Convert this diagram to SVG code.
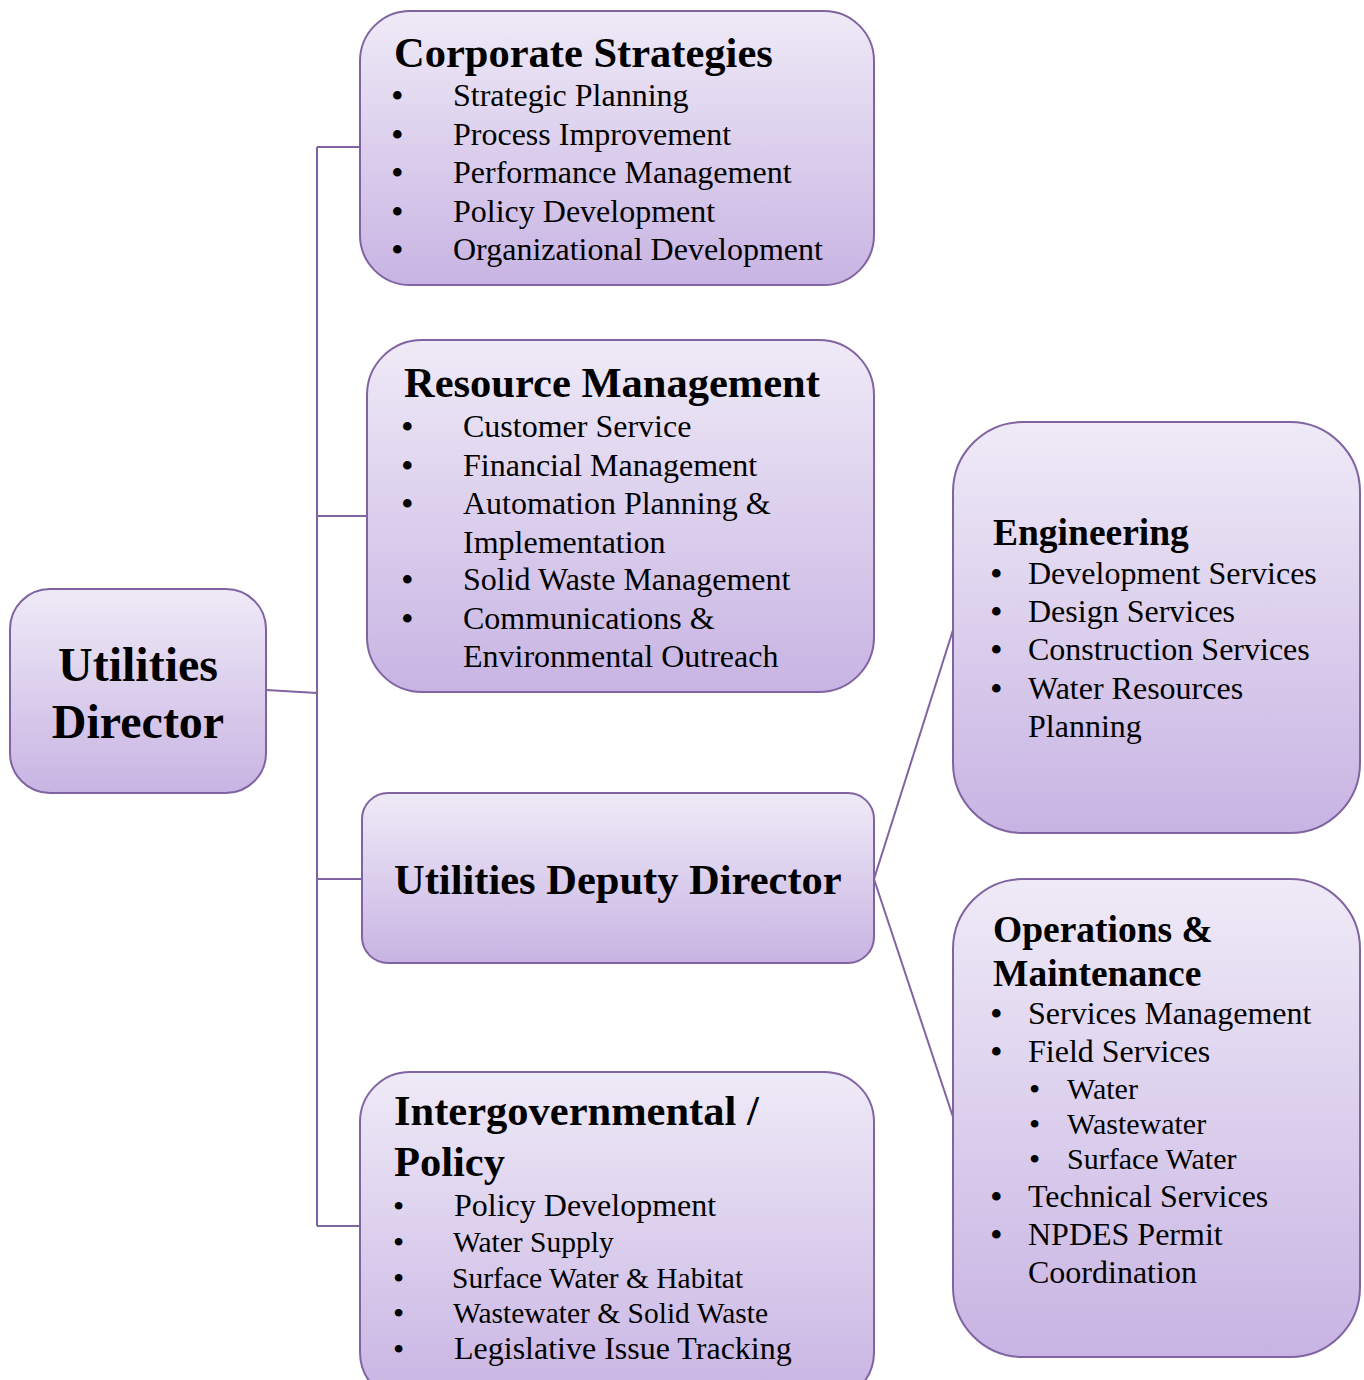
<svg xmlns="http://www.w3.org/2000/svg" width="1364" height="1380" viewBox="0 0 1364 1380">
<defs>
<linearGradient id="g" x1="0" y1="0" x2="0" y2="1">
<stop offset="0" stop-color="#EFEAF7"/>
<stop offset="1" stop-color="#C8B4E3"/>
</linearGradient>
<style>
.box{fill:url(#g);stroke:#8064A2;stroke-width:2}
.t{font-family:"Liberation Serif","Times New Roman",serif;fill:#000}
.h{font-weight:bold;font-size:42.5px}
.hr{font-weight:bold;font-size:37.5px}
.i{font-size:32px}
.s{font-size:29.5px}
.b{font-size:36px}
.bs{font-size:32px}
.c{fill:none;stroke:#8064A2;stroke-width:2}
</style>
</defs>
<rect width="1364" height="1380" fill="#fff"/>
<g id="connectors">
<polyline class="c" points="317,147 317,1226"/>
<line class="c" x1="317" y1="147" x2="360" y2="147"/>
<line class="c" x1="317" y1="516" x2="367" y2="516"/>
<line class="c" x1="317" y1="879" x2="362" y2="879"/>
<line class="c" x1="317" y1="1226" x2="360" y2="1226"/>
<line class="c" x1="266" y1="690" x2="317" y2="693"/>
<line class="c" x1="874" y1="879" x2="953" y2="630"/>
<line class="c" x1="874" y1="879" x2="953" y2="1117"/>
</g>
<g id="director">
<rect class="box" x="10" y="589" width="256" height="204" rx="40"/>
<text class="t" font-weight="bold" font-size="48" text-anchor="middle"><tspan x="138" y="681">Utilities</tspan><tspan x="138" y="738">Director</tspan></text>
</g>
<g id="corporate">
<rect class="box" x="360" y="11" width="514" height="274" rx="50"/>
<text class="t h" x="394" y="67">Corporate Strategies</text>
<g class="t">
<text class="b" x="391" y="108">•</text><text class="i" x="453" y="106">Strategic Planning</text>
<text class="b" x="391" y="147">•</text><text class="i" x="453" y="145">Process Improvement</text>
<text class="b" x="391" y="185">•</text><text class="i" x="453" y="183">Performance Management</text>
<text class="b" x="391" y="224">•</text><text class="i" x="453" y="222">Policy Development</text>
<text class="b" x="391" y="262">•</text><text class="i" x="453" y="260">Organizational Development</text>
</g>
</g>
<g id="resource">
<rect class="box" x="367" y="340" width="507" height="352" rx="55"/>
<text class="t h" x="404" y="397">Resource Management</text>
<g class="t">
<text class="b" x="401" y="439">•</text><text class="i" x="463" y="437">Customer Service</text>
<text class="b" x="401" y="478">•</text><text class="i" x="463" y="476">Financial Management</text>
<text class="b" x="401" y="516">•</text><text class="i" x="463" y="514">Automation Planning &amp;</text>
<text class="i" x="463" y="553">Implementation</text>
<text class="b" x="401" y="592">•</text><text class="i" x="463" y="590">Solid Waste Management</text>
<text class="b" x="401" y="631">•</text><text class="i" x="463" y="629">Communications &amp;</text>
<text class="i" x="463" y="667">Environmental Outreach</text>
</g>
</g>
<g id="deputy">
<rect class="box" x="362" y="793" width="512" height="170" rx="26"/>
<text class="t h" x="394" y="894">Utilities Deputy Director</text>
</g>
<g id="intergov">
<rect class="box" x="360" y="1072" width="514" height="330" rx="50"/>
<text class="t h"><tspan x="394" y="1125">Intergovernmental /</tspan><tspan x="394" y="1176">Policy</tspan></text>
<g class="t">
<text class="bs" x="393" y="1217">•</text><text class="i" x="454" y="1216">Policy Development</text>
<text class="bs" x="393" y="1253">•</text><text class="s" x="453" y="1252">Water Supply</text>
<text class="bs" x="393" y="1289">•</text><text class="s" x="452" y="1288">Surface Water &amp; Habitat</text>
<text class="bs" x="393" y="1324">•</text><text class="s" x="453" y="1323">Wastewater &amp; Solid Waste</text>
<text class="bs" x="393" y="1360">•</text><text class="i" x="454" y="1359">Legislative Issue Tracking</text>
</g>
</g>
<g id="engineering">
<rect class="box" x="953" y="422" width="407" height="411" rx="70"/>
<text class="t hr" x="993" y="545">Engineering</text>
<g class="t">
<text class="b" x="990" y="586">•</text><text class="i" x="1028" y="584">Development Services</text>
<text class="b" x="990" y="624">•</text><text class="i" x="1028" y="622">Design Services</text>
<text class="b" x="990" y="662">•</text><text class="i" x="1028" y="660">Construction Services</text>
<text class="b" x="990" y="701">•</text><text class="i" x="1028" y="699">Water Resources</text>
<text class="i" x="1028" y="737">Planning</text>
</g>
</g>
<g id="operations">
<rect class="box" x="953" y="879" width="407" height="478" rx="70"/>
<text class="t hr"><tspan x="993" y="942">Operations &amp;</tspan><tspan x="993" y="986">Maintenance</tspan></text>
<g class="t">
<text class="b" x="990" y="1026">•</text><text class="i" x="1028" y="1024">Services Management</text>
<text class="b" x="990" y="1064">•</text><text class="i" x="1028" y="1062">Field Services</text>
<text class="bs" x="1029" y="1100">•</text><text x="1067" y="1099" font-size="30">Water</text>
<text class="bs" x="1029" y="1135">•</text><text x="1067" y="1134" font-size="30">Wastewater</text>
<text class="bs" x="1029" y="1170">•</text><text x="1067" y="1169" font-size="30">Surface Water</text>
<text class="b" x="990" y="1209">•</text><text class="i" x="1028" y="1207">Technical Services</text>
<text class="b" x="990" y="1247">•</text><text class="i" x="1028" y="1245">NPDES Permit</text>
<text class="i" x="1028" y="1283">Coordination</text>
</g>
</g>
</svg>
